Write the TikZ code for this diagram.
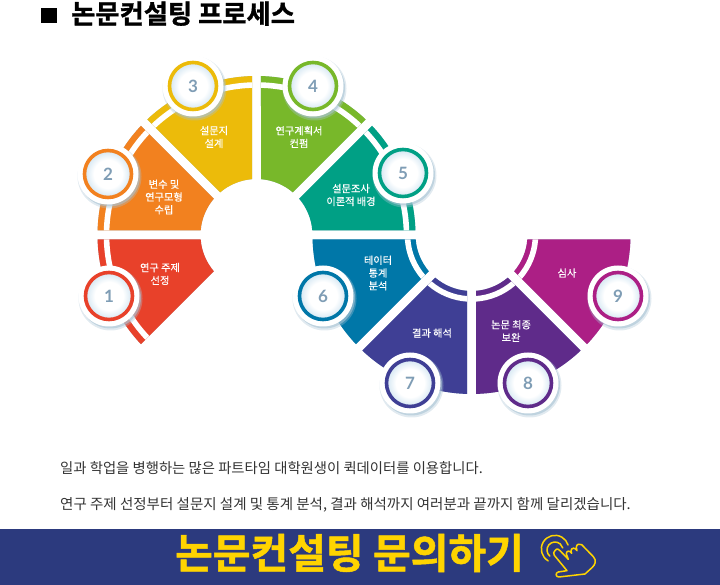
\documentclass[tikz,border=0pt]{standalone}
\usepackage{fontspec}
\usetikzlibrary{calc}
\newfontfamily\kr{Noto Sans CJK KR}
\newfontfamily\krb{Noto Sans CJK KR Bold}[FakeBold=1.2]
\newfontfamily\krm{Noto Sans CJK KR}[FakeBold=0.5]
\newfontfamily\numf{Lato}[BoldFont={Lato Bold}]
\definecolor{cA}{HTML}{E8412A}
\definecolor{cB}{HTML}{F2811F}
\definecolor{cC}{HTML}{ECBB0A}
\definecolor{cD}{HTML}{78B82A}
\definecolor{cE}{HTML}{00A085}
\definecolor{cF}{HTML}{0077A8}
\definecolor{cG}{HTML}{3F3F95}
\definecolor{cH}{HTML}{5F2B8A}
\definecolor{cI}{HTML}{AC1F85}
\definecolor{shadowc}{HTML}{A9C3D4}
\definecolor{glowc}{HTML}{D3E6F2}
\definecolor{numc}{HTML}{7F9DB5}
\definecolor{bannerc}{HTML}{2C3A7E}
\definecolor{goldc}{HTML}{FFD400}
\definecolor{bodyc}{HTML}{333333}
\pgfdeclareradialshading{glow}{\pgfpoint{0bp}{0bp}}{color(0bp)=(white);color(15bp)=(white);color(25bp)=(glowc);color(50bp)=(glowc)}
% annular sector fill: options, centre, a1, a2, r1 (inner), r2 (outer); gap half width 4.5
\newcommand{\sectorfill}[6]{%
  \pgfmathsetmacro{\oa}{#3+asin(4.5/#6)}%
  \pgfmathsetmacro{\ob}{#4-asin(4.5/#6)}%
  \pgfmathsetmacro{\ia}{#3+asin(4.5/#5)}%
  \pgfmathsetmacro{\ib}{#4-asin(4.5/#5)}%
  \fill[#1] ($(#2)+(\oa:#6)$) arc[start angle=\oa,end angle=\ob,radius=#6]
  -- ($(#2)+(\ib:#5)$) arc[start angle=\ib,end angle=\ia,radius=#5] -- cycle;}
\newcommand{\seg}[5]{% centre, a1, a2, colour, stripe radius
  \sectorfill{#4}{#1}{#2}{#3}{56}{159}%
  \pgfmathsetmacro{\sa}{#5-2.8}\pgfmathsetmacro{\sb}{#5+2.8}%
  \sectorfill{white}{#1}{#2}{#3}{\sa}{\sb}}
\newcommand{\segshadow}[3]{%
  \sectorfill{shadowc,shift={(2.5,2.5)}}{#1}{#2}{#3}{56}{159}}
\newcommand{\badge}[4]{% name, pos, colour, number
  \fill[shadowc,opacity=.35] ($(#2)+(1.5,2.5)$) circle[radius=32];
  \fill[shadowc,opacity=.6] ($(#2)+(1.5,2)$) circle[radius=30.5];
  \node[badgeout] (#1) at (#2) {};
  \node[badgering,draw=#3] (#1r) at (#2) {};
  \node[badgetext] (#1n) at (#2) {#4};}
\tikzset{
  badgeout/.style={circle,fill=white,minimum size=61pt,inner sep=0pt},
  badgering/.style={circle,line width=3.6pt,minimum size=47pt,inner sep=0pt,shading=glow},
  badgetext/.style={text=numc,font=\numf\bfseries\fontsize{17}{17}\selectfont,inner sep=0pt},
  seglabel/.style={text=white,align=center,font=\krm\fontsize{10.2}{12.8}\selectfont,inner sep=0pt},
  bodytext/.style={text=bodyc,anchor=base west,inner sep=0pt},
}
\begin{document}
\begin{tikzpicture}[x=1pt,y=1pt]
\useasboundingbox (0,0) rectangle (720,585);
\begin{scope}[shift={(0,585)},yscale=-1]
\coordinate (L) at (256.5,235);
\coordinate (R) at (471.5,235);
% shadows
\segshadow{L}{135}{180}\segshadow{L}{180}{225}\segshadow{L}{225}{270}\segshadow{L}{270}{315}\segshadow{L}{315}{360}
\segshadow{R}{135}{180}\segshadow{R}{90}{135}\segshadow{R}{45}{90}\segshadow{R}{0}{45}
% segments
\seg{L}{135}{180}{cA}{150}
\seg{L}{180}{225}{cB}{150}
\seg{L}{225}{270}{cC}{150}
\seg{L}{270}{315}{cD}{150}
\seg{L}{315}{360}{cE}{150}
\seg{R}{135}{180}{cF}{64}
\seg{R}{90}{135}{cG}{64}
\seg{R}{45}{90}{cH}{64}
\seg{R}{0}{45}{cI}{64}
% badges
\badge{b1}{109,296}{cA}{1}
\badge{b2}{108,174}{cB}{2}
\badge{b3}{193,86}{cC}{3}
\badge{b4}{313,86}{cD}{4}
\badge{b5}{403,173}{cE}{5}
\badge{b6}{323,296}{cF}{6}
\badge{b7}{410,383}{cG}{7}
\badge{b8}{528,383}{cH}{8}
\badge{b9}{618,296}{cI}{9}
% labels
\node[seglabel] (t1) at (160,274) {연구 주제\\선정};
\node[seglabel] (t2) at (164,197) {변수 및\\연구모형\\수립};
\node[seglabel] (t3) at (214,137) {설문지\\설계};
\node[seglabel] (t4) at (299,137) {연구계획서\\컨펌};
\node[seglabel] (t5) at (351,195) {설문조사\\이론적 배경};
\node[seglabel] (t6) at (378,273) {테이터\\통계\\분석};
\node[seglabel] (t7) at (432,333) {결과 해석};
\node[seglabel] (t8) at (511,331) {논문 최종\\보완};
\node[seglabel] (t9) at (567,273) {심사};
% title
\fill[black] (41,8) rectangle (57,23);
\node[anchor=base west,inner sep=0pt,font=\krb\fontsize{26.3}{26.3}\selectfont] (title) at (71,23.5) {논문컨설팅 프로세스};
% body
\node[bodytext,font=\kr\fontsize{14.35}{14.35}\selectfont] (p1) at (60,473.5) {일과 학업을 병행하는 많은 파트타임 대학원생이 퀵데이터를 이용합니다.};
\node[bodytext,font=\kr\fontsize{14.5}{14.5}\selectfont] (p2) at (60,509.5) {연구 주제 선정부터 설문지 설계 및 통계 분석, 결과 해석까지 여러분과 끝까지 함께 달리겠습니다.};
% banner
\fill[bannerc] (0,529) rectangle (720,585);
\node[text=goldc,inner sep=0pt,font=\krb\fontsize{41}{41}\selectfont] (cta) at (349.5,553) {논문컨설팅 문의하기};
% hand icon
\begin{scope}[shift={(535,530)},scale=0.3333,draw=goldc,line width=1.5pt,line join=round,line cap=round]
\draw (60,62) .. controls (66,53) and (72,58) .. (76,63) -- (100,88)
  -- (94,72) .. controls (93,62) and (104,60) .. (110,70)
  -- (108,62) .. controls (110,52) and (120,52) .. (126,62)
  -- (124,52) .. controls (124,42) and (134,40) .. (140,44)
  -- (175,80) .. controls (186,92) and (180,104) .. (172,112)
  -- (150,132) -- (72,141) .. controls (62,142) and (60,128) .. (70,126)
  -- (96,122) -- (58,76) .. controls (54,70) and (56,66) .. (60,62) -- cycle;
\draw ($(60,60)+(130:24)$) arc[start angle=130,end angle=345,radius=24];
\draw ($(60,57)+(120:41)$) arc[start angle=120,end angle=343,radius=41];
\end{scope}
\end{scope}
\end{tikzpicture}
\end{document}
